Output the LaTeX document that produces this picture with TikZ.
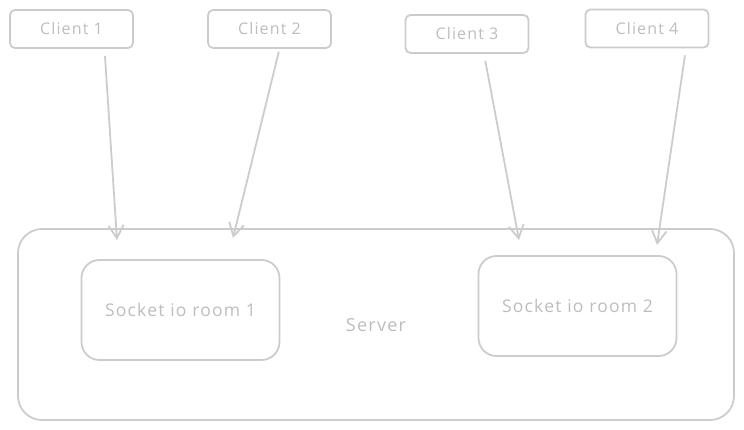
\documentclass[tikz,border=0pt]{standalone}
\usepackage{fontspec}
\setmainfont{Open Sans}[LetterSpace=7]
\usetikzlibrary{arrows.meta}
\definecolor{sketch}{HTML}{CCCCCC}
\definecolor{ink}{HTML}{BDBDBD}

\begin{document}
\begin{tikzpicture}[x=1pt,y=-1pt,
  client/.style={draw=sketch, line width=1.8pt, rounded corners=5pt, minimum width=123pt, minimum height=38pt, text=ink, font=\fontsize{16}{19}\selectfont},
  room/.style={draw=sketch, line width=1.8pt, rounded corners=18pt, minimum width=198pt, minimum height=100pt, text=ink, font=\fontsize{17.5}{20}\selectfont},
  link/.style={draw=sketch, line width=1.8pt, -{Straight Barb[length=13pt,width=15pt,line width=1.8pt]}, shorten <=7pt}]
\useasboundingbox (0,0) rectangle (744,430);
\node[draw=sketch, line width=1.8pt, rounded corners=24pt, minimum width=716pt, minimum height=191pt, inner sep=0pt] (server) at (376,324.5) {};
\node[text=ink, font=\fontsize{18}{20}\selectfont] (slabel) at (376,325) {Server};
\node[client] (c1) at (71.5,29) {Client 1};
\node[client] (c2) at (269.5,29) {Client 2};
\node[client] (c3) at (467,34) {Client 3};
\node[client] (c4) at (647,28.5) {Client 4};
\node[room] (r1) at (180.5,310) {Socket io room 1};
\node[room] (r2) at (577.5,306) {Socket io room 2};
\coordinate (in1) at (117,240);
\coordinate (in2) at (233,238);
\coordinate (in3) at (519,240);
\coordinate (in4) at (657,245);
\draw[link] ([xshift=33pt]c1.south) -- (in1);
\draw[link] ([xshift=11pt,yshift=4pt]c2.south) -- (in2);
\draw[link] ([xshift=17pt]c3.south) -- (in3);
\draw[link] ([xshift=39pt]c4.south) -- (in4);
\end{tikzpicture}
\end{document}
